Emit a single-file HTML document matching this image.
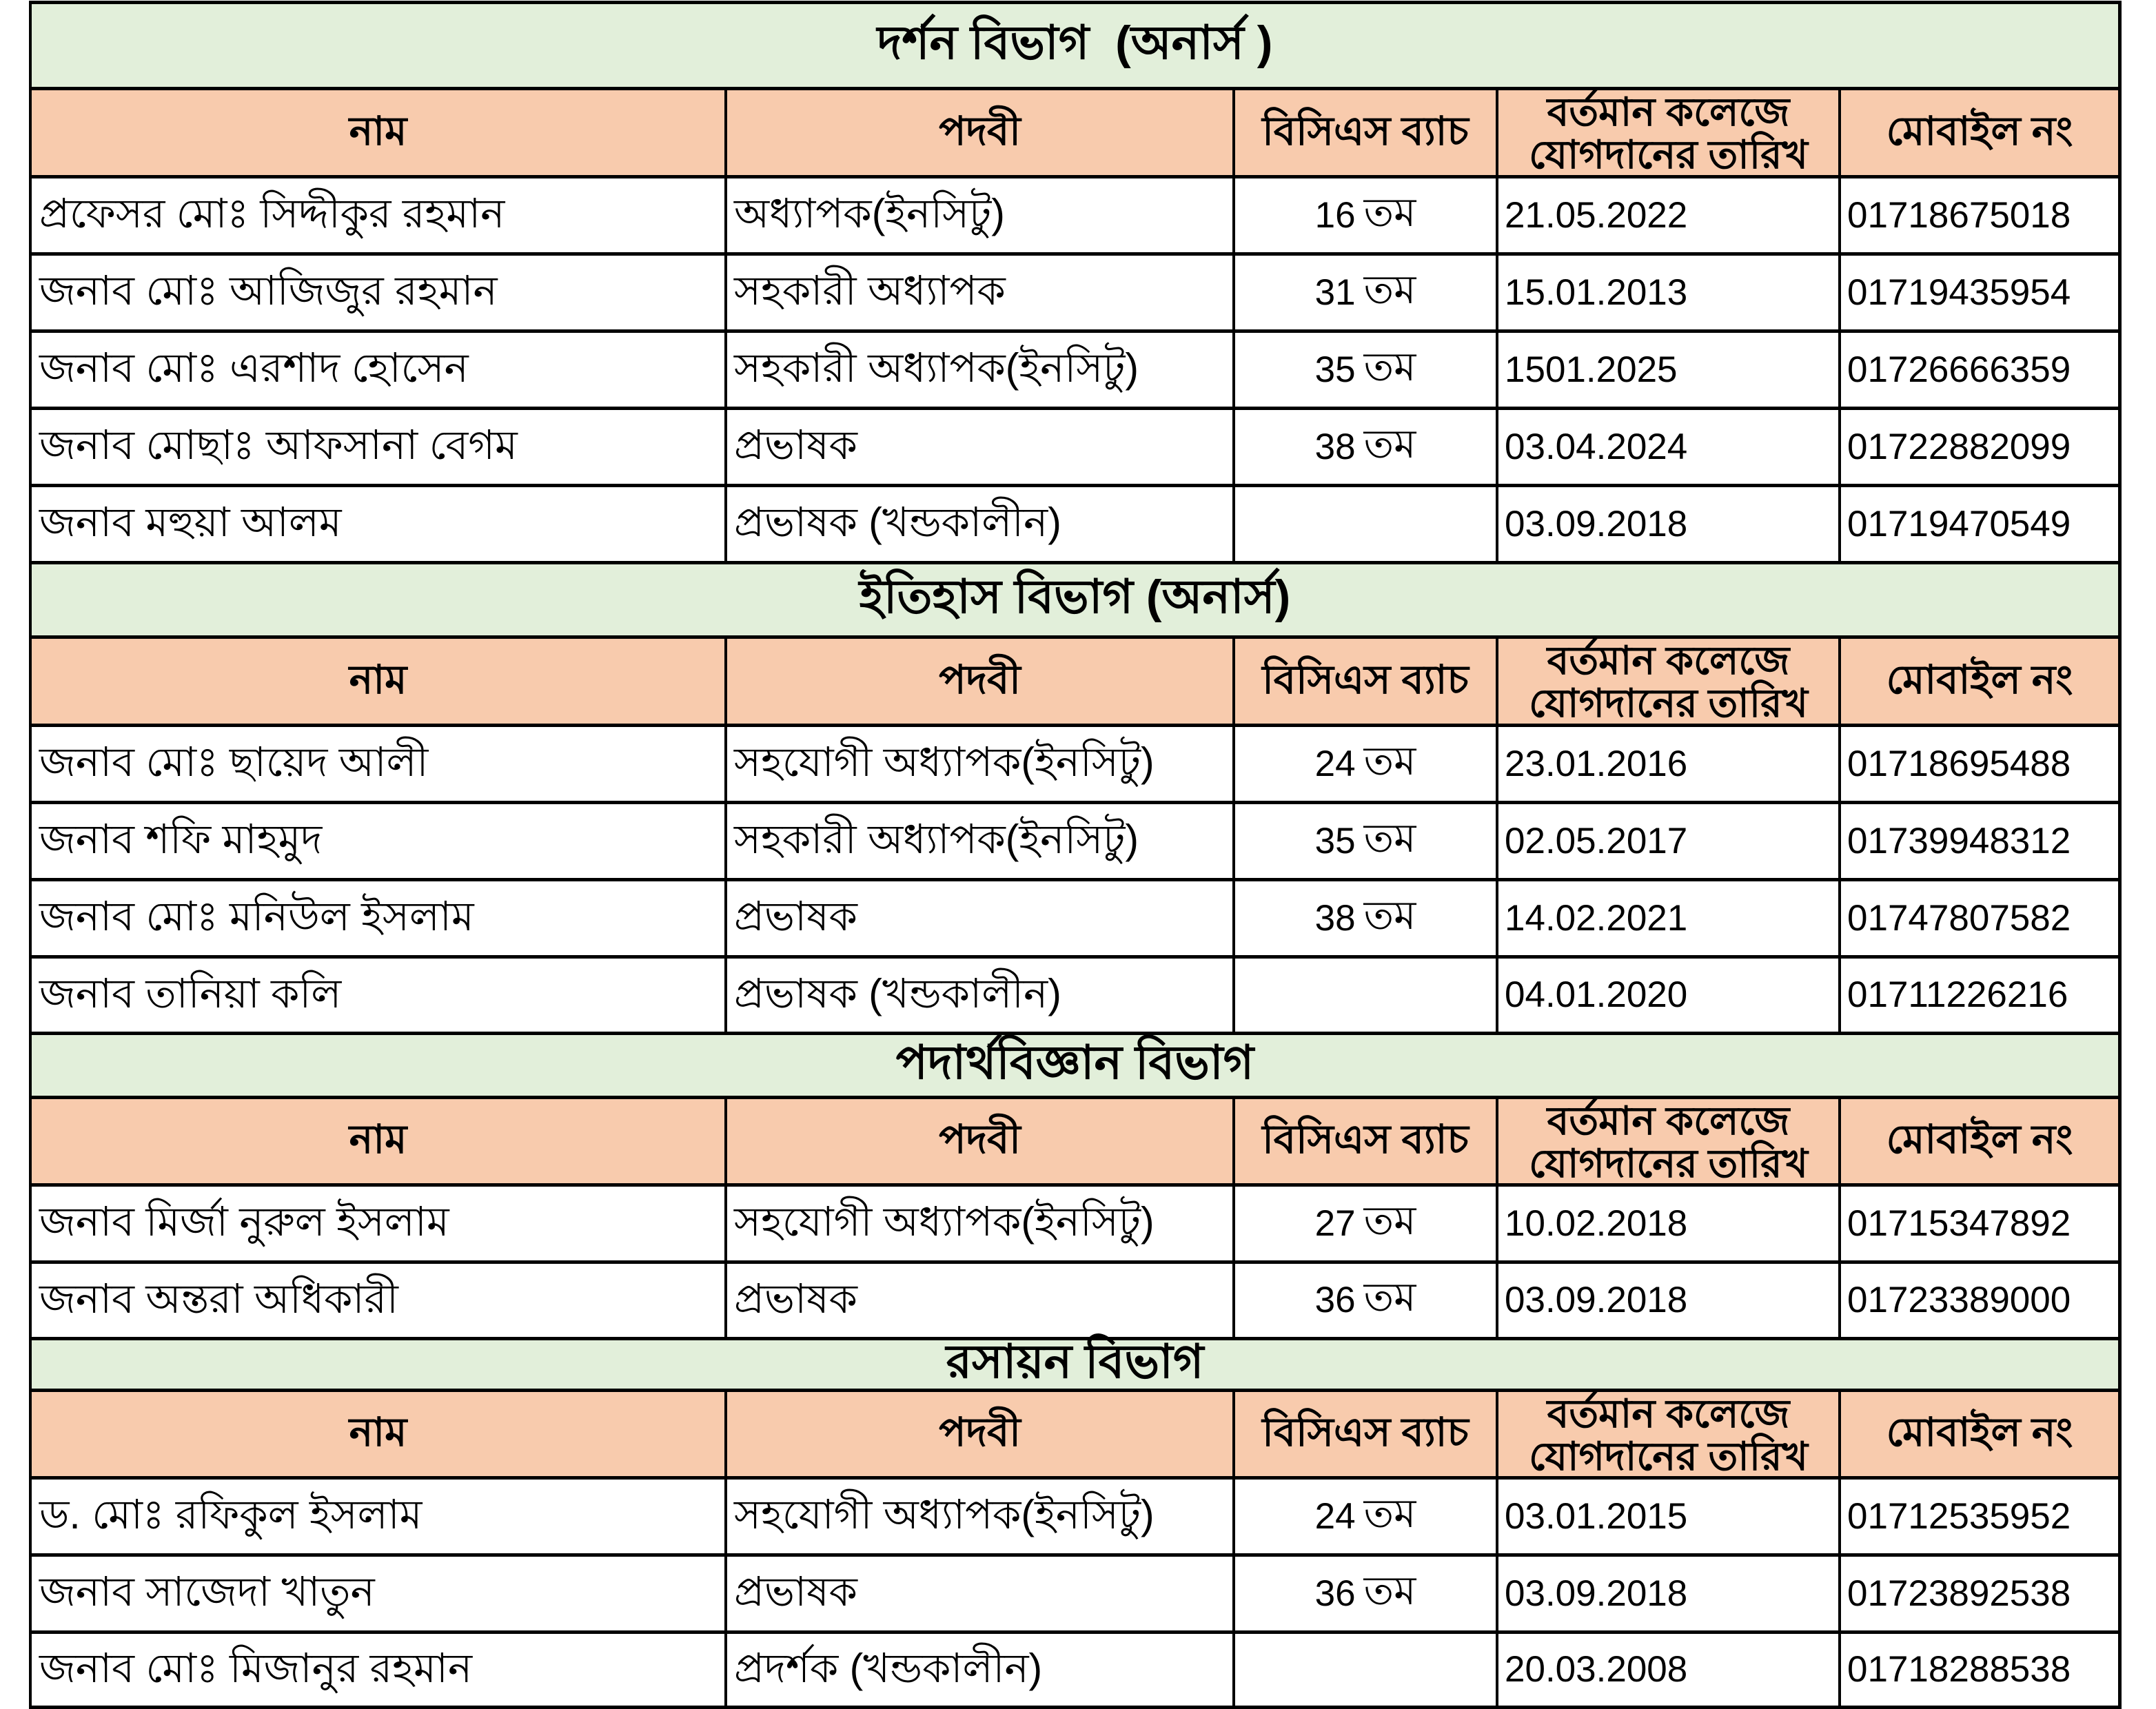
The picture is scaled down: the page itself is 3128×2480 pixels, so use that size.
<!DOCTYPE html>
<html><head><meta charset="utf-8">
<style>
html,body{margin:0;padding:0;background:#fff;}
body{width:3128px;height:2480px;position:relative;overflow:hidden;font-family:"Liberation Sans","DejaVu Sans",sans-serif;color:#000;}
.r{position:absolute;left:44px;width:3031px;}
.t{background:#E2EFDA;}
.h{background:#F8CBAD;}
.r>div{position:absolute;top:0;height:100%;display:flex;align-items:center;white-space:nowrap;box-sizing:border-box;}
.tt{left:0;width:100%;justify-content:center;font-weight:bold;font-size:68px;}
.c1{left:2px;width:1005px;padding-left:11px;font-size:59px;padding-top:4px;}
.c2{left:1011px;width:733px;padding-left:10px;font-size:59px;padding-top:4px;}
.c3{left:1748px;width:378px;justify-content:center;font-size:53px;}
.c3 span{font-size:58px;margin-left:12px;}
.c4{left:2130px;width:493px;padding-left:9px;font-size:53px;}
.c5{left:2627px;width:402px;padding-left:9px;font-size:53px;}
.h>div{justify-content:center;padding-left:0;font-weight:bold;font-size:58px;padding-top:4px;}
.h .c4{flex-direction:column;line-height:62px;font-size:57px;}
.hl{position:absolute;left:42px;width:3036px;height:5px;background:#000;}
.vl{position:absolute;width:4px;background:#000;}
</style></head><body>

<!-- Section 1 -->
<div class="r t" style="top:3px;height:125px"><div class="tt">দর্শন বিভাগ&nbsp;&nbsp;(অনার্স )</div></div>
<div class="r h" style="top:128px;height:128px"><div class="c1">নাম</div><div class="c2">পদবী</div><div class="c3">বিসিএস ব্যাচ</div><div class="c4"><span>বর্তমান কলেজে</span><span>যোগদানের তারিখ</span></div><div class="c5">মোবাইল নং</div></div>
<div class="r" style="top:256px;height:112px"><div class="c1">প্রফেসর মোঃ সিদ্দীকুর রহমান</div><div class="c2">অধ্যাপক(ইনসিটু)</div><div class="c3">16<span>তম</span></div><div class="c4">21.05.2022</div><div class="c5">01718675018</div></div>
<div class="r" style="top:368px;height:112px"><div class="c1">জনাব মোঃ আজিজুর রহমান</div><div class="c2">সহকারী অধ্যাপক</div><div class="c3">31<span>তম</span></div><div class="c4">15.01.2013</div><div class="c5">01719435954</div></div>
<div class="r" style="top:480px;height:112px"><div class="c1">জনাব মোঃ এরশাদ হোসেন</div><div class="c2">সহকারী অধ্যাপক(ইনসিটু)</div><div class="c3">35<span>তম</span></div><div class="c4">1501.2025</div><div class="c5">01726666359</div></div>
<div class="r" style="top:592px;height:112px"><div class="c1">জনাব মোছাঃ আফসানা বেগম</div><div class="c2">প্রভাষক</div><div class="c3">38<span>তম</span></div><div class="c4">03.04.2024</div><div class="c5">01722882099</div></div>
<div class="r" style="top:704px;height:112px"><div class="c1">জনাব মহুয়া আলম</div><div class="c2">প্রভাষক (খন্ডকালীন)</div><div class="c3"></div><div class="c4">03.09.2018</div><div class="c5">01719470549</div></div>

<!-- Section 2 -->
<div class="r t" style="top:816px;height:108px"><div class="tt">ইতিহাস বিভাগ (অনার্স)</div></div>
<div class="r h" style="top:924px;height:128px"><div class="c1">নাম</div><div class="c2">পদবী</div><div class="c3">বিসিএস ব্যাচ</div><div class="c4"><span>বর্তমান কলেজে</span><span>যোগদানের তারিখ</span></div><div class="c5">মোবাইল নং</div></div>
<div class="r" style="top:1052px;height:112px"><div class="c1">জনাব মোঃ ছায়েদ আলী</div><div class="c2">সহযোগী অধ্যাপক(ইনসিটু)</div><div class="c3">24<span>তম</span></div><div class="c4">23.01.2016</div><div class="c5">01718695488</div></div>
<div class="r" style="top:1164px;height:112px"><div class="c1">জনাব শফি মাহমুদ</div><div class="c2">সহকারী অধ্যাপক(ইনসিটু)</div><div class="c3">35<span>তম</span></div><div class="c4">02.05.2017</div><div class="c5">01739948312</div></div>
<div class="r" style="top:1276px;height:112px"><div class="c1">জনাব মোঃ মনিউল ইসলাম</div><div class="c2">প্রভাষক</div><div class="c3">38<span>তম</span></div><div class="c4">14.02.2021</div><div class="c5">01747807582</div></div>
<div class="r" style="top:1388px;height:111px"><div class="c1">জনাব তানিয়া কলি</div><div class="c2">প্রভাষক (খন্ডকালীন)</div><div class="c3"></div><div class="c4">04.01.2020</div><div class="c5">01711226216</div></div>

<!-- Section 3 -->
<div class="r t" style="top:1499px;height:93px"><div class="tt">পদার্থবিজ্ঞান বিভাগ</div></div>
<div class="r h" style="top:1592px;height:127px"><div class="c1">নাম</div><div class="c2">পদবী</div><div class="c3">বিসিএস ব্যাচ</div><div class="c4"><span>বর্তমান কলেজে</span><span>যোগদানের তারিখ</span></div><div class="c5">মোবাইল নং</div></div>
<div class="r" style="top:1719px;height:112px"><div class="c1">জনাব মির্জা নুরুল ইসলাম</div><div class="c2">সহযোগী অধ্যাপক(ইনসিটু)</div><div class="c3">27<span>তম</span></div><div class="c4">10.02.2018</div><div class="c5">01715347892</div></div>
<div class="r" style="top:1831px;height:111px"><div class="c1">জনাব অন্তরা অধিকারী</div><div class="c2">প্রভাষক</div><div class="c3">36<span>তম</span></div><div class="c4">03.09.2018</div><div class="c5">01723389000</div></div>

<!-- Section 4 -->
<div class="r t" style="top:1942px;height:75px"><div class="tt">রসায়ন বিভাগ</div></div>
<div class="r h" style="top:2017px;height:127px"><div class="c1">নাম</div><div class="c2">পদবী</div><div class="c3">বিসিএস ব্যাচ</div><div class="c4"><span>বর্তমান কলেজে</span><span>যোগদানের তারিখ</span></div><div class="c5">মোবাইল নং</div></div>
<div class="r" style="top:2144px;height:112px"><div class="c1">ড. মোঃ রফিকুল ইসলাম</div><div class="c2">সহযোগী অধ্যাপক(ইনসিটু)</div><div class="c3">24<span>তম</span></div><div class="c4">03.01.2015</div><div class="c5">01712535952</div></div>
<div class="r" style="top:2256px;height:112px"><div class="c1">জনাব সাজেদা খাতুন</div><div class="c2">প্রভাষক</div><div class="c3">36<span>তম</span></div><div class="c4">03.09.2018</div><div class="c5">01723892538</div></div>
<div class="r" style="top:2368px;height:109px"><div class="c1">জনাব মোঃ মিজানুর রহমান</div><div class="c2">প্রদর্শক (খন্ডকালীন)</div><div class="c3"></div><div class="c4">20.03.2008</div><div class="c5">01718288538</div></div>

<!-- horizontal lines -->
<div class="hl" style="top:1px"></div>
<div class="hl" style="top:126px"></div>
<div class="hl" style="top:254px"></div>
<div class="hl" style="top:366px"></div>
<div class="hl" style="top:478px"></div>
<div class="hl" style="top:590px"></div>
<div class="hl" style="top:702px"></div>
<div class="hl" style="top:814px"></div>
<div class="hl" style="top:922px"></div>
<div class="hl" style="top:1050px"></div>
<div class="hl" style="top:1162px"></div>
<div class="hl" style="top:1274px"></div>
<div class="hl" style="top:1386px"></div>
<div class="hl" style="top:1497px"></div>
<div class="hl" style="top:1590px"></div>
<div class="hl" style="top:1717px"></div>
<div class="hl" style="top:1829px"></div>
<div class="hl" style="top:1940px"></div>
<div class="hl" style="top:2015px"></div>
<div class="hl" style="top:2142px"></div>
<div class="hl" style="top:2254px"></div>
<div class="hl" style="top:2366px"></div>
<div class="hl" style="top:2475px"></div>

<!-- outer vertical borders -->
<div class="vl" style="left:42px;top:1px;height:2479px"></div>
<div class="vl" style="left:3073px;top:1px;height:2479px;width:5px"></div>

<!-- inner column lines, section 1 -->
<div class="vl" style="left:1051px;top:126px;height:692px"></div>
<div class="vl" style="left:1788px;top:126px;height:692px"></div>
<div class="vl" style="left:2170px;top:126px;height:692px"></div>
<div class="vl" style="left:2667px;top:126px;height:692px"></div>
<!-- section 2 -->
<div class="vl" style="left:1051px;top:922px;height:579px"></div>
<div class="vl" style="left:1788px;top:922px;height:579px"></div>
<div class="vl" style="left:2170px;top:922px;height:579px"></div>
<div class="vl" style="left:2667px;top:922px;height:579px"></div>
<!-- section 3 -->
<div class="vl" style="left:1051px;top:1590px;height:354px"></div>
<div class="vl" style="left:1788px;top:1590px;height:354px"></div>
<div class="vl" style="left:2170px;top:1590px;height:354px"></div>
<div class="vl" style="left:2667px;top:1590px;height:354px"></div>
<!-- section 4 -->
<div class="vl" style="left:1051px;top:2015px;height:465px"></div>
<div class="vl" style="left:1788px;top:2015px;height:465px"></div>
<div class="vl" style="left:2170px;top:2015px;height:465px"></div>
<div class="vl" style="left:2667px;top:2015px;height:465px"></div>

</body></html>
